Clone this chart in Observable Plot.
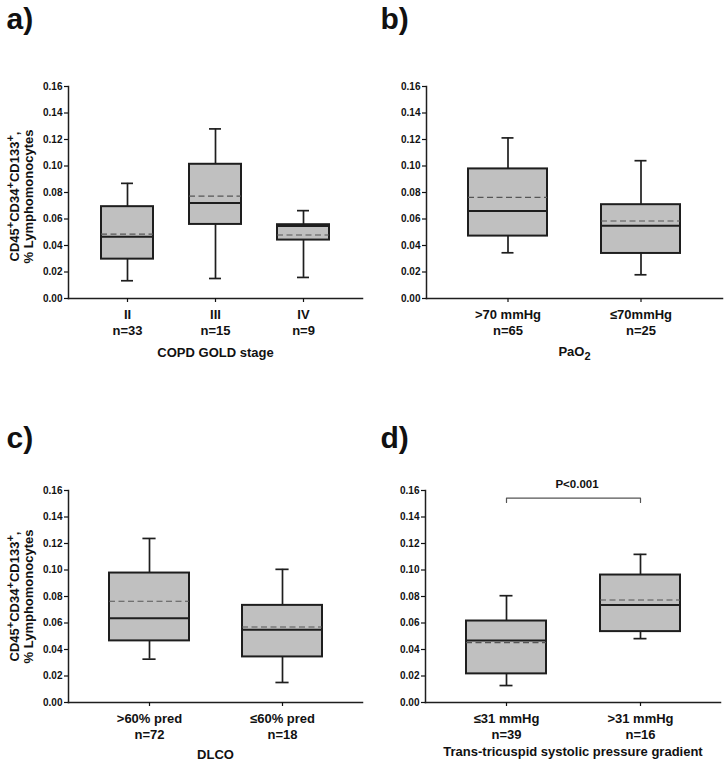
<!DOCTYPE html>
<html>
<head>
<meta charset="utf-8">
<script src="https://cdn.jsdelivr.net/npm/d3@7"></script>
<script src="https://cdn.jsdelivr.net/npm/@observablehq/plot@0.6"></script>
<style>
  html, body { margin: 0; padding: 0; background: #fff; }
  #fig { position: relative; width: 724px; height: 762px; overflow: hidden; }
  #fig > div { position: absolute; }
</style>
</head>
<body>
<div id="fig"></div>
<script>
// ---------- data ----------
const yTicks = [0, 0.02, 0.04, 0.06, 0.08, 0.10, 0.12, 0.14, 0.16];
const yTitle1 = ["CD45", "+", "CD34", "+", "CD133", "+", ","];
const yTitle2 = "% Lymphomonocytes";

// a) COPD GOLD stage
const aGroups = ["II", "III", "IV"];
const aN      = [33, 15, 9];
const aMin    = [0.0134, 0.0151, 0.0159];
const aQ1     = [0.0297, 0.0559, 0.0441];
const aMedian = [0.0466, 0.0721, 0.0547];
const aMean   = [0.0486, 0.0773, 0.0479];
const aQ3     = [0.0693, 0.1013, 0.0557];
const aMax    = [0.0869, 0.1280, 0.0663];

// b) PaO2
const bGroups = [">70 mmHg", "≤70mmHg"];
const bN      = [65, 25];
const bMin    = [0.0345, 0.0179];
const bQ1     = [0.0471, 0.0340];
const bMedian = [0.0660, 0.0549];
const bMean   = [0.0763, 0.0585];
const bQ3     = [0.0978, 0.0708];
const bMax    = [0.1212, 0.1040];

// c) DLCO
const cGroups = [">60% pred", "≤60% pred"];
const cN      = [72, 18];
const cMin    = [0.0327, 0.0151];
const cQ1     = [0.0465, 0.0344];
const cMedian = [0.0636, 0.0550];
const cMean   = [0.0764, 0.0570];
const cQ3     = [0.0977, 0.0733];
const cMax    = [0.1238, 0.1005];

// d) Trans-tricuspid systolic pressure gradient
const dGroups = ["≤31 mmHg", ">31 mmHg"];
const dN      = [39, 16];
const dMin    = [0.0128, 0.0482];
const dQ1     = [0.0216, 0.0535];
const dMedian = [0.0467, 0.0736];
const dMean   = [0.0452, 0.0774];
const dQ3     = [0.0615, 0.0962];
const dMax    = [0.0806, 0.1118];

const pLabel = "P<0.001";
const pBracketY = 0.1543;
const pBracketEndY = 0.1510;
const pTextY = 0.1643;

// ---------- drawing ----------
const FONT = "'Liberation Sans', Arial, Helvetica, sans-serif";
const INK = "#1e1e1e";

function drawPanel(cfg) {
  const W = 362, H = 381;
  const rows = cfg.groups.map((g, i) => ({
    g, min: cfg.min[i], q1: cfg.q1[i], med: cfg.median[i],
    mean: cfg.mean[i], q3: cfg.q3[i], max: cfg.max[i]
  }));
  const tickLab = new Map(cfg.groups.map((g, i) => [g, `${g}\nn=${cfg.n[i]}`]));
  const range = W - cfg.ml - cfg.mr;
  const step = range / (cfg.groups.length - cfg.pi + 2 * cfg.po);
  const bw = step * (1 - cfg.pi);
  const capInset = (bw - 13) / 2;

  const marks = [
    Plot.frame({anchor: "left", stroke: INK, strokeWidth: 1.5}),
    Plot.frame({anchor: "bottom", stroke: INK, strokeWidth: 1.5}),
    Plot.axisY({ticks: yTicks, tickFormat: d => d.toFixed(2), tickSize: 4, tickPadding: 2,
                fontSize: 10, label: null, strokeWidth: 1.2}),
    Plot.axisX({tickSize: 4, tickPadding: 5, tickFormat: d => tickLab.get(d),
                fontSize: 13, lineHeight: 1.25, label: null, strokeWidth: 1.2}),
    Plot.ruleX(rows, {x: "g", y1: "min", y2: "max", stroke: INK, strokeWidth: 1.7}),
    Plot.tickY(rows, {x: "g", y: "min", insetLeft: capInset, insetRight: capInset, stroke: INK, strokeWidth: 1.7}),
    Plot.tickY(rows, {x: "g", y: "max", insetLeft: capInset, insetRight: capInset, stroke: INK, strokeWidth: 1.7}),
    Plot.barY(rows, {x: "g", y1: "q1", y2: "q3", fill: "#c0c0c0", stroke: INK, strokeWidth: 2, inset: 0}),
    Plot.tickY(rows, {x: "g", y: "mean", stroke: "#555", strokeWidth: 1.1, strokeDasharray: "6,3.5"}),
    Plot.tickY(rows, {x: "g", y: "med", stroke: INK, strokeWidth: 2}),
    Plot.text([cfg.xLabel], {text: d => d, frameAnchor: "bottom", dy: cfg.xlDy, fontSize: 13,
                             lineAnchor: "middle", textAnchor: "middle"}),
    Plot.text([cfg.letter], {text: d => d, frameAnchor: "top-left", dx: cfg.letterX - cfg.ml,
                             dy: cfg.letterY - cfg.mt, fontSize: 30, textAnchor: "start", lineAnchor: "bottom"})
  ];
  if (cfg.yTitle) {
    marks.push(
      Plot.text([yTitle1.join("")], {text: d => d, frameAnchor: "left", rotate: -90, dx: -50, dy: cfg.ytDy,
                                     fontSize: 13, textAnchor: "middle", lineAnchor: "bottom"}),
      Plot.text([yTitle2], {text: d => d, frameAnchor: "left", rotate: -90, dx: -36, dy: cfg.ytDy,
                            fontSize: 13, textAnchor: "middle", lineAnchor: "bottom"})
    );
  }
  if (cfg.pvalue) {
    const br = [
      {g: cfg.groups[0], y: pBracketEndY}, {g: cfg.groups[0], y: pBracketY},
      {g: cfg.groups[1], y: pBracketY}, {g: cfg.groups[1], y: pBracketEndY}
    ];
    marks.push(
      Plot.line(br, {x: "g", y: "y", stroke: "#555", strokeWidth: 1.2}),
      Plot.text([pLabel], {text: d => d, frameAnchor: "top", y: pTextY, dx: 4, fontSize: 11.5, lineAnchor: "middle"})
    );
  }

  const svg = Plot.plot({
    width: W, height: H,
    marginLeft: cfg.ml, marginRight: cfg.mr, marginTop: cfg.mt, marginBottom: cfg.mb,
    style: {fontFamily: FONT, fontWeight: "bold", color: "#111", background: "transparent", overflow: "visible"},
    x: {type: "band", domain: cfg.groups, paddingInner: cfg.pi, paddingOuter: cfg.po},
    y: {domain: [0, 0.16]},
    marks
  });

  const s = d3.select(svg);
  s.selectAll('g[aria-label="y-axis tick label"]').attr("font-size", 10);
  s.selectAll('g[aria-label="x-axis tick label"]').attr("font-size", 13);

  // superscripts in the y title
  if (cfg.yTitle) {
    const full = yTitle1.join("");
    s.selectAll("text").filter(function () { return this.textContent === full; }).each(function () {
      const t = d3.select(this);
      t.text(null);
      yTitle1.forEach((part, i) => {
        const sup = part === "+";
        const prevSup = i > 0 && yTitle1[i - 1] === "+";
        const sp = t.append("tspan").text(part);
        if (sup) sp.attr("dy", "-5").attr("font-size", 11);
        else if (prevSup) sp.attr("dy", "5");
      });
    });
  }
  // subscript in PaO2
  if (cfg.sub) {
    s.selectAll("text").filter(function () { return this.textContent === cfg.xLabel; }).each(function () {
      const t = d3.select(this);
      t.text(null);
      t.append("tspan").text(cfg.sub[0]);
      t.append("tspan").text(cfg.sub[1]).attr("dy", "4").attr("font-size", 11);
    });
  }

  const holder = document.createElement("div");
  holder.style.left = cfg.left + "px";
  holder.style.top = cfg.top + "px";
  holder.appendChild(svg);
  document.getElementById("fig").appendChild(holder);
}

drawPanel({
  left: 0, top: 0, letter: "a)", letterX: 6, letterY: 28,
  groups: aGroups, n: aN, min: aMin, q1: aQ1, median: aMedian, mean: aMean, q3: aQ3, max: aMax,
  ml: 68, mr: 0, mt: 86, mb: 83, pi: 0.404, po: 0.354,
  xLabel: "COPD GOLD stage", xlDy: 54, yTitle: true, ytDy: 4
});
drawPanel({
  left: 362, top: 0, letter: "b)", letterX: 18, letterY: 28,
  groups: bGroups, n: bN, min: bMin, q1: bQ1, median: bMedian, mean: bMean, q3: bQ3, max: bMax,
  ml: 64, mr: 2, mt: 86, mb: 83, pi: 0.403, po: 0.306,
  xLabel: "PaO2", sub: ["PaO", "2"], xlDy: 53
});
drawPanel({
  left: 0, top: 381, letter: "c)", letterX: 6, letterY: 66,
  groups: cGroups, n: cN, min: cMin, q1: cQ1, median: cMedian, mean: cMean, q3: cQ3, max: cMax,
  ml: 68, mr: 0, mt: 109, mb: 60, pi: 0.4, po: 0.305,
  xLabel: "DLCO", xlDy: 52, yTitle: true, ytDy: 0
});
drawPanel({
  left: 362, top: 381, letter: "d)", letterX: 18, letterY: 66,
  groups: dGroups, n: dN, min: dMin, q1: dQ1, median: dMedian, mean: dMean, q3: dQ3, max: dMax,
  ml: 63, mr: 4, mt: 109, mb: 60, pi: 0.403, po: 0.302,
  xLabel: "Trans-tricuspid systolic pressure gradient", xlDy: 49, pvalue: true
});
</script>
</body>
</html>
